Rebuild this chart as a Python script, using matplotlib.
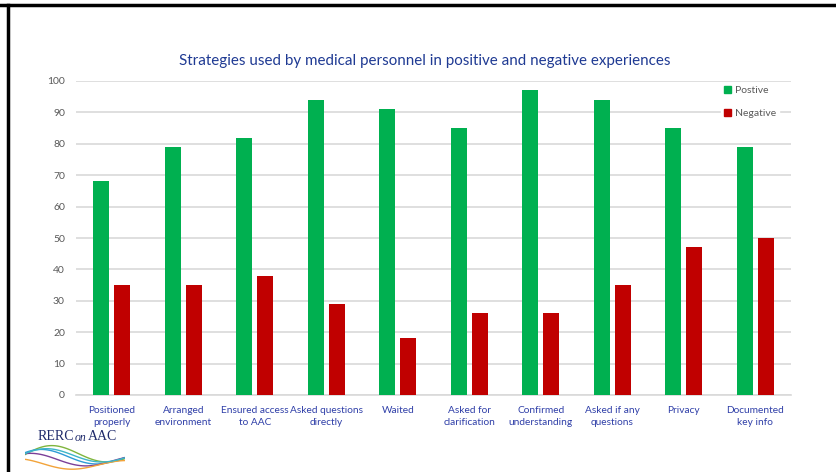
import matplotlib
matplotlib.use("Agg")
import matplotlib.pyplot as plt
import numpy as np
from matplotlib.patches import Patch
from matplotlib.lines import Line2D

categories = ["Positioned\nproperly", "Arranged\nenvironment", "Ensured access\nto AAC",
              "Asked questions\ndirectly", "Waited", "Asked for\nclarification",
              "Confirmed\nunderstanding", "Asked if any\nquestions", "Privacy",
              "Documented\nkey info"]
positive = [68, 79, 82, 94, 91, 85, 97, 94, 85, 79]
negative = [35, 35, 38, 29, 18, 26, 26, 35, 47, 50]
series_names = ["Postive", "Negative"]
title = "Strategies used by medical personnel in positive and negative experiences"

GREEN = "#00B050"
RED = "#C00000"
FONT = ["Lato", "DejaVu Sans"]

fig = plt.figure(figsize=(8.37, 4.72), dpi=100)
ax = fig.add_axes([76/837, 1-395/472, (791-76)/837, (395-81)/472])

x = np.arange(len(categories))
w = 0.22
off = 0.147
ax.bar(x - off, positive, w, color=GREEN, zorder=3)
ax.bar(x + off, negative, w, color=RED, zorder=3)

ax.set_xlim(-0.5, len(categories) - 0.5)
ax.set_ylim(0, 100)
ax.set_yticks(np.arange(0, 101, 10))
ax.yaxis.grid(True, color="#D9D9D9", linewidth=1.2, zorder=0)
ax.set_axisbelow(True)
for s in ["top", "right", "left"]:
    ax.spines[s].set_visible(False)
ax.spines["bottom"].set_color("#D9D9D9")
ax.spines["bottom"].set_linewidth(1.2)
ax.tick_params(axis="y", length=0, labelsize=7.5, labelcolor="#595959", pad=8)
ax.tick_params(axis="x", length=0, labelsize=7.3, labelcolor="#2F3FA8", pad=8)
ax.set_xticks(x)
ax.set_xticklabels(categories, family=FONT, linespacing=1.35)
for lab in ax.get_yticklabels():
    lab.set_family(FONT)

fig.text(0.5075, 1-61/472, title, ha="center", va="center", color="#1F3A93",
         fontsize=10.9, family=FONT)

handles = [Patch(color=GREEN), Patch(color=RED)]
leg = ax.legend(handles, series_names, loc="upper left",
                bbox_to_anchor=((716-76)/715, 1 + 3/314), frameon=True,
                facecolor="white", edgecolor="white", framealpha=1,
                handlelength=0.6, handleheight=0.6, handletextpad=0.4,
                labelspacing=1.3, prop={"family": FONT, "size": 7.5},
                borderpad=0.3)
for t in leg.get_texts():
    t.set_color("#595959")
leg.set_zorder(5)

# slide border (top and left)
fig.add_artist(Line2D([0, 1], [1-5/472, 1-5/472], color="black", linewidth=2.5,
                      transform=fig.transFigure))
fig.add_artist(Line2D([8/837, 8/837], [0, 1-5/472], color="black", linewidth=2.5,
                      transform=fig.transFigure))

# logo
fig.text(38/837, 1-437/472, "RERC", family="Liberation Serif", fontsize=10,
         color="#1F2A6B", va="center", ha="left")
fig.text(75/837, 1-438/472, "on", family="Liberation Serif", fontsize=8.5,
         style="italic", color="#1F2A6B", va="center", ha="left")
fig.text(88/837, 1-437/472, "AAC", family="Liberation Serif", fontsize=10,
         color="#1F2A6B", va="center", ha="left")
lax = fig.add_axes([25/837, 1-470/472, 100/837, 28/472])
lax.set_axis_off()
lax.set_xlim(0, 1)
lax.set_ylim(0, 1)
t = np.linspace(0, 1, 60)
for col, a, b, ph in [("#7FB53D", 0.35, 0.55, 0.0), ("#2E9BD6", 0.30, 0.45, 0.6),
                      ("#7B3F98", 0.25, 0.35, 1.2), ("#F2A33A", 0.2, 0.2, 2.0),
                      ("#3DB6C8", 0.28, 0.5, 0.3)]:
    lax.plot(t, b + a * np.sin(2 * np.pi * (t * 0.9) + ph) * (1 - t * 0.3),
             color=col, linewidth=1.0)

fig.savefig("out.png", dpi=100, facecolor="white")
